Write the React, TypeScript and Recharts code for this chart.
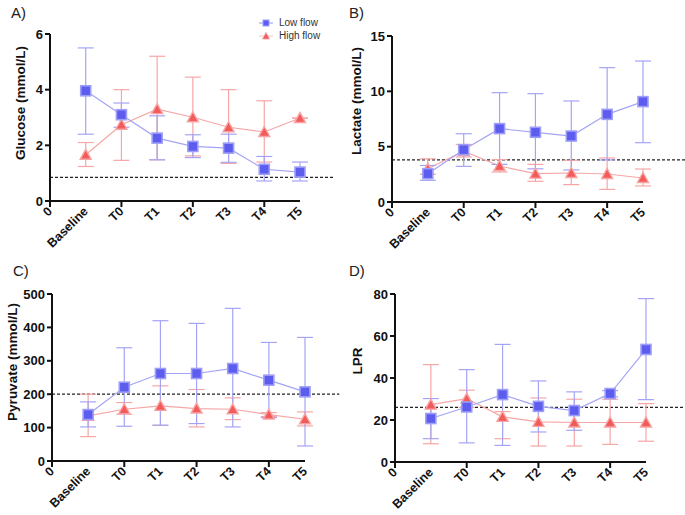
import React from 'react';
import { ComposedChart, Line, XAxis, YAxis, ErrorBar, ReferenceLine } from 'recharts';

const xLabels = ['0', 'Baseline', 'T0', 'T1', 'T2', 'T3', 'T4', 'T5'];
const xPositions = [1, 2, 3, 4, 5, 6, 7];

const glucoseLowMean = [3.96, 3.1, 2.26, 1.96, 1.9, 1.14, 1.04];
const glucoseLowUpper = [5.5, 3.52, 3.06, 2.38, 2.4, 1.6, 1.4];
const glucoseLowLower = [2.4, 2.65, 1.48, 1.56, 1.39, 0.72, 0.72];
const glucoseHighMean = [1.66, 2.74, 3.3, 3.01, 2.65, 2.48, 2.98];
const glucoseHighUpper = [2.1, 4.0, 5.2, 4.45, 4.0, 3.6, 2.98];
const glucoseHighLower = [1.24, 1.46, 1.48, 1.62, 1.35, 1.4, 2.98];

const lactateLowMean = [2.56, 4.73, 6.63, 6.3, 5.96, 7.92, 9.07];
const lactateLowUpper = [3.3, 6.17, 9.88, 9.79, 9.13, 12.14, 12.74];
const lactateLowLower = [1.96, 3.22, 3.4, 3.0, 2.9, 3.8, 5.36];
const lactateHighMean = [3.0, 4.6, 3.25, 2.56, 2.62, 2.53, 2.17];
const lactateHighUpper = [3.9, 5.2, 3.83, 3.4, 3.77, 3.98, 2.98];
const lactateHighLower = [2.5, 4.07, 2.71, 1.87, 1.57, 1.14, 1.45];

const pyruvateLowMean = [139, 221, 262, 262, 277, 242, 207];
const pyruvateLowUpper = [177, 339, 420, 412, 457, 355, 370];
const pyruvateLowLower = [102, 104, 107, 112, 102, 130, 45];
const pyruvateHighMean = [135, 155, 165, 157, 155, 139, 125];
const pyruvateHighUpper = [200, 175, 225, 214, 189, 145, 147];
const pyruvateHighLower = [73, 140, 107, 102, 124, 133, 105];

const lprLowMean = [20.7, 26.2, 32.1, 26.5, 24.5, 32.6, 53.6];
const lprLowUpper = [30.2, 44, 56, 38.6, 33.4, 34, 77.8];
const lprLowLower = [11.1, 9.1, 7.9, 14.3, 15.1, 31, 29.7];
const lprHighMean = [27.3, 30.2, 21.5, 19.1, 18.8, 18.8, 18.8];
const lprHighUpper = [46.4, 34.2, 24, 30.5, 29.9, 29.9, 27.8];
const lprHighLower = [8.7, 26, 11.1, 7.6, 7.6, 8.4, 9.9];

const BLUE_LINE = '#a4a4f6';
const RED_LINE = '#f6a6a6';
const FONT = '"Liberation Sans", Arial, sans-serif';

function buildRows(lm, lu, ll, hm, hu, hl) {
  return xPositions.map((x, i) => ({
    x,
    low: lm[i],
    lowErr: [lm[i] - ll[i], lu[i] - lm[i]],
    high: hm[i],
    highErr: [hm[i] - hl[i], hu[i] - hm[i]],
  }));
}

const SquareDot = (p: any) => {
  if (p.cx == null || p.cy == null) return <g key={`s${p.index}`} />;
  return (
    <rect key={`s${p.index}`} x={p.cx - 5} y={p.cy - 5} width={10} height={10}
      fill="#5c5cef" stroke="#9e9ef8" strokeWidth={1.6} />
  );
};

const TriangleDot = (p: any) => {
  if (p.cx == null || p.cy == null) return <g key={`t${p.index}`} />;
  const { cx, cy } = p;
  return (
    <path key={`t${p.index}`} d={`M${cx},${cy - 5.5} L${cx + 5.5},${cy + 4.5} L${cx - 5.5},${cy + 4.5} Z`}
      fill="#f35a5a" stroke="#f8a3a3" strokeWidth={1.4} />
  );
};

const XTick = (props: any) => {
  const { x, y, payload } = props;
  const v = payload.value;
  return (
    <g>
      {v % 2 === 0 && <line x1={x} x2={x} y1={y - 6} y2={y} stroke="#111" strokeWidth={2} />}
      <text x={x + 3} y={y + 5} textAnchor="end" fontFamily={FONT} fontWeight="bold" fontSize={12.5}
        fill="#111" transform={`rotate(-45 ${x + 3} ${y + 5})`}>
        {xLabels[v]}
      </text>
    </g>
  );
};

function Panel({ left, top, width, height, margin, xHeight, yWidth, domain, ticks, threshold, refEnd, rows }) {
  return (
    <div style={{ position: 'absolute', left, top }}>
      <ComposedChart width={width} height={height} data={rows} margin={margin}>
        <XAxis dataKey="x" type="number" domain={[0, 7]} ticks={[0, 1, 2, 3, 4, 5, 6, 7]}
          tick={<XTick />} tickLine={false} tickSize={6} tickMargin={0} interval={0}
          axisLine={{ stroke: '#111', strokeWidth: 2 }} height={xHeight} />
        <YAxis type="number" domain={domain} ticks={ticks} width={yWidth} interval={0}
          axisLine={{ stroke: '#111', strokeWidth: 2 }} tickLine={{ stroke: '#111', strokeWidth: 2 }}
          tickSize={5} tick={{ fill: '#111', fontSize: 13, fontWeight: 'bold', fontFamily: FONT }} />
        <ReferenceLine segment={[{ x: 0, y: threshold }, { x: refEnd, y: threshold }]} ifOverflow="visible"
          stroke="#222" strokeWidth={1.2} strokeDasharray="3 2" />
        <Line dataKey="high" type="linear" stroke={RED_LINE} strokeWidth={1.2} dot={TriangleDot}
          activeDot={false} isAnimationActive={false}>
          <ErrorBar dataKey="highErr" width={8} stroke={RED_LINE} strokeWidth={1.2} direction="y" />
        </Line>
        <Line dataKey="low" type="linear" stroke={BLUE_LINE} strokeWidth={1.2} dot={SquareDot}
          activeDot={false} isAnimationActive={false}>
          <ErrorBar dataKey="lowErr" width={8} stroke={BLUE_LINE} strokeWidth={1.2} direction="y" />
        </Line>
      </ComposedChart>
    </div>
  );
}

const textBase: React.CSSProperties = { position: 'absolute', fontFamily: FONT, color: '#111' };

function YLabel({ x, y, text }) {
  return (
    <div style={{ ...textBase, left: x, top: y, width: 0, height: 0 }}>
      <span style={{ position: 'absolute', whiteSpace: 'nowrap', fontWeight: 'bold', fontSize: 13.5,
        transform: 'translate(-50%, -50%) rotate(-90deg)' }}>{text}</span>
    </div>
  );
}

function Title({ x, y, text }) {
  return <div style={{ ...textBase, left: x, top: y, fontSize: 15, color: '#222' }}>{text}</div>;
}

export default function App() {
  const glucose = buildRows(glucoseLowMean, glucoseLowUpper, glucoseLowLower, glucoseHighMean, glucoseHighUpper, glucoseHighLower);
  const lactate = buildRows(lactateLowMean, lactateLowUpper, lactateLowLower, lactateHighMean, lactateHighUpper, lactateHighLower);
  const pyruvate = buildRows(pyruvateLowMean, pyruvateLowUpper, pyruvateLowLower, pyruvateHighMean, pyruvateHighUpper, pyruvateHighLower);
  const lpr = buildRows(lprLowMean, lprLowUpper, lprLowLower, lprHighMean, lprHighUpper, lprHighLower);

  return (
    <div style={{ position: 'absolute', left: 0, top: 0, width: 685, height: 515, background: '#fff', overflow: 'hidden' }}>
      <Panel left={0} top={0} width={340} height={255} margin={{ top: 34, right: 40, bottom: 0, left: 0 }}
        xHeight={54} yWidth={50} domain={[0, 6]} ticks={[0, 2, 4, 6]} threshold={0.85} refEnd={7.95} rows={glucose} />
      <Panel left={340} top={0} width={345} height={255} margin={{ top: 36, right: 42, bottom: 0, left: 0 }}
        xHeight={53} yWidth={52} domain={[0, 15]} ticks={[0, 5, 10, 15]} threshold={3.8} refEnd={8.2} rows={lactate} />
      <Panel left={0} top={255} width={340} height={260} margin={{ top: 39, right: 35, bottom: 0, left: 0 }}
        xHeight={54} yWidth={52} domain={[0, 500]} ticks={[0, 100, 200, 300, 400, 500]} threshold={200} refEnd={7.95} rows={pyruvate} />
      <Panel left={340} top={255} width={345} height={260} margin={{ top: 39, right: 39, bottom: 0, left: 0 }}
        xHeight={53} yWidth={55} domain={[0, 80]} ticks={[0, 20, 40, 60, 80]} threshold={26} refEnd={8.2} rows={lpr} />

      <Title x={11} y={4} text="A)" />
      <Title x={349} y={4} text="B)" />
      <Title x={13} y={262} text="C)" />
      <Title x={349} y={262} text="D)" />

      <YLabel x={20} y={103} text="Glucose (mmol/L)" />
      <YLabel x={356} y={101} text="Lactate (mmol/L)" />
      <YLabel x={12} y={362} text="Pyruvate (mmol/L)" />
      <YLabel x={357} y={361} text="LPR" />

      <div style={{ ...textBase, left: 258, top: 16, fontSize: 10, color: '#333', lineHeight: '13px' }}>
        <div style={{ display: 'flex', alignItems: 'center' }}>
          <svg width={16} height={12} style={{ marginRight: 5 }}>
            <line x1={1} x2={15} y1={6} y2={6} stroke={BLUE_LINE} strokeWidth={1.2} />
            <rect x={5} y={3} width={6} height={6} fill="#5c5cef" stroke="#9e9ef8" strokeWidth={1} />
          </svg>
          Low flow
        </div>
        <div style={{ display: 'flex', alignItems: 'center' }}>
          <svg width={16} height={12} style={{ marginRight: 5 }}>
            <line x1={1} x2={15} y1={6} y2={6} stroke={RED_LINE} strokeWidth={1.2} strokeOpacity={0.5} />
            <path d="M8,2.5 L11.5,9 L4.5,9 Z" fill="#f35a5a" stroke="#f8a3a3" strokeWidth={0.8} />
          </svg>
          High flow
        </div>
      </div>
    </div>
  );
}
